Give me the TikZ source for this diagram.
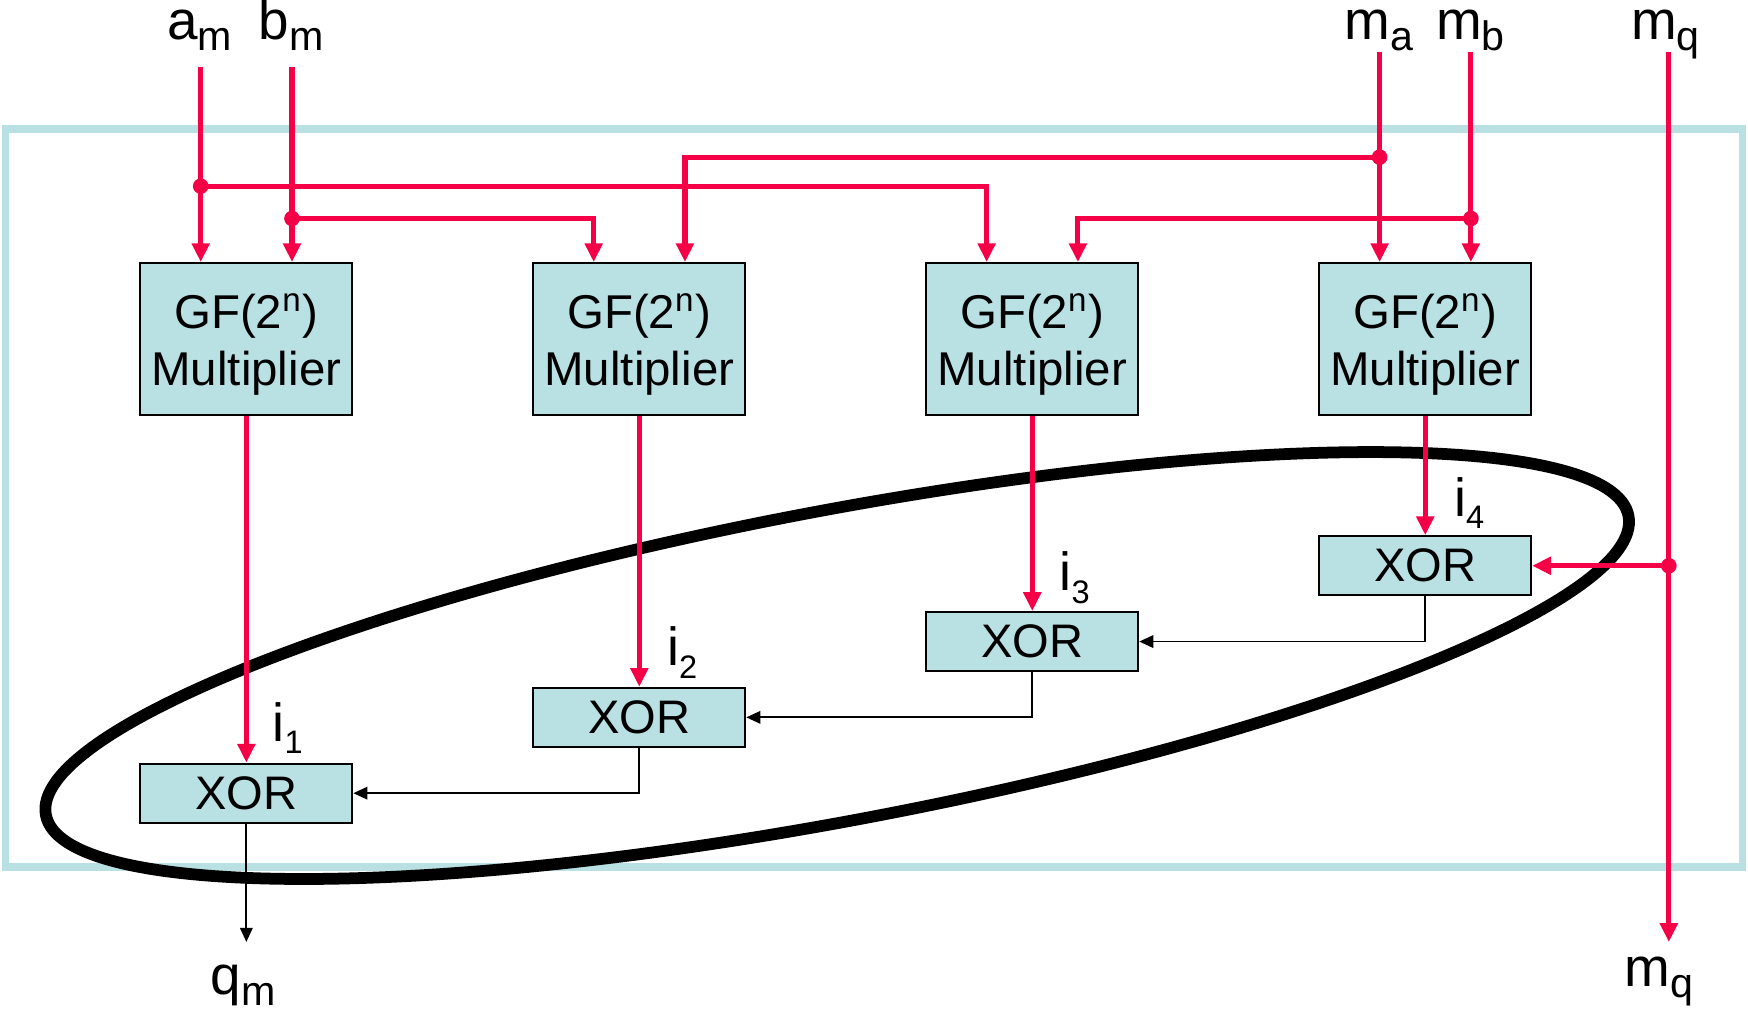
\documentclass[tikz,border=0pt]{standalone}
\usepackage{fontspec}
\setmainfont{Liberation Sans}
\usetikzlibrary{arrows.meta,calc}
\definecolor{sigred}{RGB}{245,0,70}
\definecolor{boxblue}{RGB}{185,224,227}
% signal name with a lowered subscript
\newcommand\lblsub[2]{#1\raisebox{-2.9pt}{\fontsize{10.5}{11}\selectfont #2}}
\newcommand\isub[2]{#1\raisebox{-3.2pt}{\fontsize{8.3}{9}\selectfont #2}}
% two-line multiplier caption, set slightly below the box centre
\newcommand\multtext{\raisebox{-1.8pt}[\height][\depth]{%
  \begin{tabular}{@{}c@{}}GF(2\textsuperscript{n})\\Multiplier\end{tabular}}}
\begin{document}
\begin{tikzpicture}[x=0.01cm,y=-0.01cm,
  sig/.style={draw=sigred,line width=1.3pt},
  sigarr/.style={sig,-{Triangle[length=4.8pt,width=4.4pt]}},
  wire/.style={draw=black,line width=0.45pt},
  wirearr/.style={wire,-{Triangle[length=3.6pt,width=3.2pt]}},
  mult/.style={draw=black,line width=0.5pt,fill=boxblue,minimum width=1.9cm,
    minimum height=1.36cm,inner sep=0pt,
    font=\fontsize{12.1}{14.5}\selectfont},
  xorbox/.style={draw=black,line width=0.5pt,fill=boxblue,minimum width=1.9cm,
    minimum height=0.53cm,inner sep=0pt,font=\fontsize{12}{14}\selectfont},
  iolabel/.style={font=\fontsize{14}{16}\selectfont,anchor=base,inner sep=0pt},
  ilabel/.style={font=\fontsize{13.7}{15}\selectfont,anchor=base,inner sep=0pt},
  jdot/.style={circle,fill=sigred,inner sep=0pt,minimum size=0.14cm}
]
\useasboundingbox (0,0) rectangle (1568,918);

% enclosing frame
\draw[draw=boxblue,line width=2pt] (5,116) rectangle (1563,778);

% grouping ellipse around the XOR chain
\draw[line width=3pt,rotate around={10.7:(751,597)}]
  (751,597) ellipse [x radius=7.22cm,y radius=1.39cm];

% multipliers
\node[mult] (m1) at (221,304) {\multtext};
\node[mult] (m2) at (573.5,304) {\multtext};
\node[mult] (m3) at (926,304) {\multtext};
\node[mult] (m4) at (1278.5,304) {\multtext};

% XOR chain
\node[xorbox] (x1) at (221,711.5) {XOR};
\node[xorbox] (x2) at (573.5,643.5) {XOR};
\node[xorbox] (x3) at (926,575.5) {XOR};
\node[xorbox] (x4) at (1278.5,507.5) {XOR};

% multiplier input ports
\foreach \m in {1,2,3,4}{
  \coordinate (p\m l) at ($(m\m.north west)+(55,0)$);
  \coordinate (p\m r) at ($(m\m.north east)+(-55,0)$);
}

% inputs
\node[iolabel] (la)  at (179,35)  {\lblsub{a}{m}};
\node[iolabel] (lb)  at (261,35)  {\lblsub{b}{m}};
\node[iolabel] (lma) at (1237,35) {\lblsub{m}{a}};
\node[iolabel] (lmb) at (1319,35) {\lblsub{m}{b}};
\node[iolabel] (lmq) at (1494,35) {\lblsub{m}{q}};

\coordinate (am)  at (p1l |- 0,60);
\coordinate (bm)  at (p1r |- 0,60);
\coordinate (ma)  at (p4l |- 0,47);
\coordinate (mb)  at (p4r |- 0,47);
\coordinate (mqt) at (1497,47);
\coordinate (mqb) at (1497,845);

\coordinate (ja)  at (am |- 0,167);
\coordinate (jb)  at (bm |- 0,196);
\coordinate (jma) at (ma |- 0,141);
\coordinate (jmb) at (mb |- 0,196);
\coordinate (jq)  at (mqt |- x4.east);

% operand distribution
\draw[sigarr] (am) -- (p1l);
\draw[sigarr] (bm) -- (p1r);
\draw[sigarr] (ma) -- (p4l);
\draw[sigarr] (mb) -- (p4r);
\draw[sigarr] (ja) -| (p3l);
\draw[sigarr] (jb) -| (p2l);
\draw[sigarr] (jma) -| (p2r);
\draw[sigarr] (jmb) -| (p3r);
\draw[sigarr] (mqt) -- (mqb);
\draw[sigarr] (jq) -- (x4.east);

\foreach \j in {ja,jb,jma,jmb,jq} \node[jdot] at (\j) {};

% partial products
\foreach \k in {1,2,3,4} \draw[sigarr] (m\k.south) -- (x\k.north);

\node[ilabel] (i1) at (258,665) {\isub{i}{1}};
\node[ilabel] (i2) at (612,597) {\isub{i}{2}};
\node[ilabel] (i3) at (964,530) {\isub{i}{3}};
\node[ilabel] (i4) at (1318,463) {\isub{i}{4}};

% accumulation
\draw[wirearr] (x4.south) |- (x3.east);
\draw[wirearr] (x3.south) |- (x2.east);
\draw[wirearr] (x2.south) |- (x1.east);
\coordinate (qend) at (x1.south |- 0,845);
\draw[wirearr] (x1.south) -- (qend);

% outputs
\node[iolabel] (lq)   at (218,892)  {\lblsub{q}{m}};
\node[iolabel] (lmqo) at (1488,885) {\lblsub{m}{q}};
\end{tikzpicture}
\end{document}
